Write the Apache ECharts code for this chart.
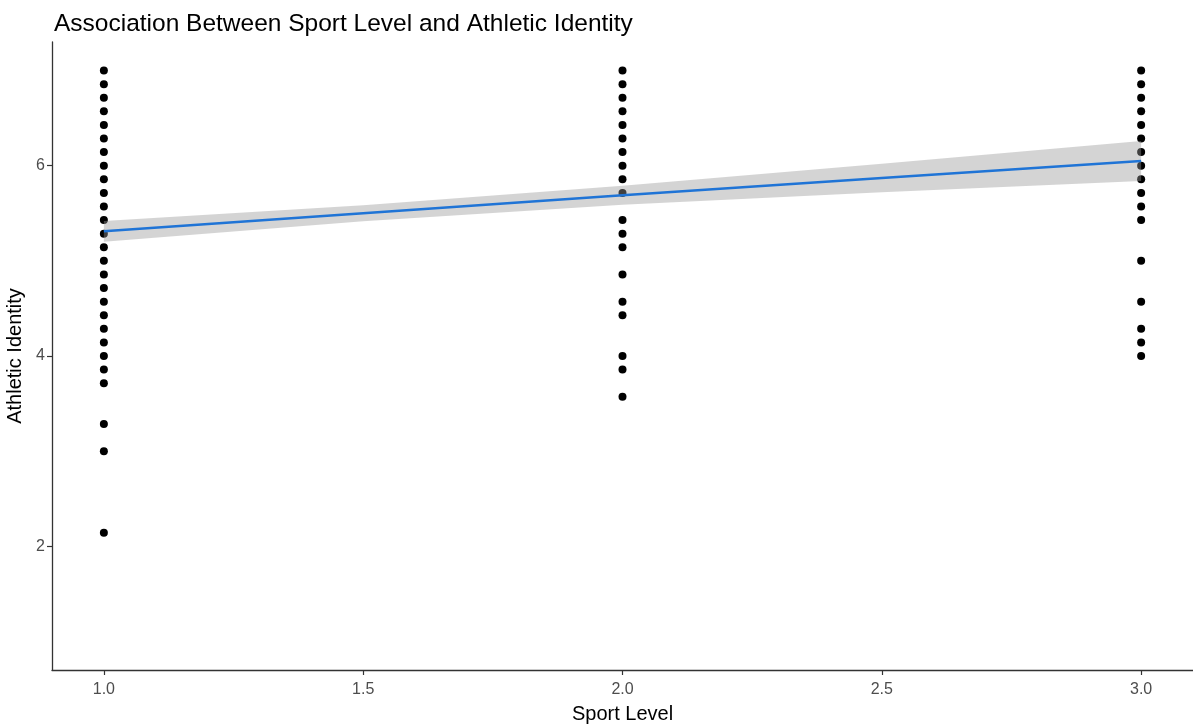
<!DOCTYPE html>
<html>
<head>
<meta charset="utf-8">
<script src="https://cdn.jsdelivr.net/npm/echarts@6/dist/echarts.min.js"></script>
<style>html,body{margin:0;padding:0;background:#fff}#c{width:1193px;height:727px}</style>
</head>
<body>
<div id="c"></div>
<script>
// Athletic identity values observed at each sport level
const level1 = [7, 6.857, 6.714, 6.571, 6.429, 6.286, 6.143, 6, 5.857, 5.714, 5.571, 5.429, 5.286, 5.143, 5, 4.857, 4.714, 4.571, 4.429, 4.286, 4.143, 4, 3.857, 3.714, 3.286, 3, 2.143];
const level2 = [7, 6.857, 6.714, 6.571, 6.429, 6.286, 6.143, 6, 5.857, 5.714, 5.429, 5.286, 5.143, 4.857, 4.571, 4.429, 4, 3.857, 3.571];
const level3 = [7, 6.857, 6.714, 6.571, 6.429, 6.286, 6.143, 6, 5.857, 5.714, 5.571, 5.429, 5, 4.571, 4.286, 4.143, 4];
// Fitted line and confidence band
const fitX = [1, 1.5, 2, 2.5, 3];
const fitY = [5.31, 5.50, 5.69, 5.87, 6.05];
const ciLow = [5.20, 5.415, 5.59, 5.72, 5.84];
const ciHigh = [5.42, 5.585, 5.79, 6.02, 6.26];
const xTicks = [1.0, 1.5, 2.0, 2.5, 3.0];
const yTicks = [2, 4, 6];

const points = [];
level1.forEach(v => points.push([1, v]));
level2.forEach(v => points.push([2, v]));
level3.forEach(v => points.push([3, v]));

const bandData = fitX.map((x, i) => [x, ciLow[i], ciHigh[i]]);

const chart = echarts.init(document.getElementById('c'));
const axisCol = '#333333';
const labCol = '#4d4d4d';
const ff = 'Liberation Sans, Arial, sans-serif';
chart.setOption({
  animation: false,
  backgroundColor: '#ffffff',
  textStyle: { fontFamily: ff },
  title: {
    text: 'Association Between Sport Level and Athletic Identity',
    left: 49, top: 7,
    textStyle: { fontSize: 24.5, fontWeight: 'normal', color: '#000', fontFamily: ff }
  },
  grid: { left: 52, right: 0, top: 42, bottom: 57, containLabel: false, outerBoundsMode: 'none' },
  xAxis: {
    type: 'value', min: 0.9, max: 3.1,
    name: 'Sport Level', nameLocation: 'middle', nameGap: 34,
    nameTextStyle: { fontSize: 20, color: '#000', fontFamily: ff },
    splitLine: { show: false },
    axisLine: { show: true, onZero: false, lineStyle: { color: axisCol, width: 1.3 } },
    axisTick: { show: true, length: 5, lineStyle: { color: axisCol, width: 1.2 }, customValues: xTicks },
    axisLabel: { customValues: xTicks, color: labCol, fontSize: 16, margin: 12, formatter: v => v.toFixed(1), fontFamily: ff }
  },
  yAxis: {
    type: 'value', min: 0.7, max: 7.3,
    name: 'Athletic Identity', nameLocation: 'middle', nameGap: 17,
    nameTextStyle: { fontSize: 20, color: '#000', fontFamily: ff },
    splitLine: { show: false },
    axisLine: { show: true, onZero: false, lineStyle: { color: axisCol, width: 1.3 } },
    axisTick: { show: true, length: 5, lineStyle: { color: axisCol, width: 1.2 }, customValues: yTicks },
    axisLabel: { customValues: yTicks, color: labCol, fontSize: 16, margin: 7, fontFamily: ff }
  },
  series: [
    {
      type: 'scatter', data: points, symbol: 'circle', symbolSize: 8,
      itemStyle: { color: '#000', opacity: 1 }, z: 2
    },
    {
      type: 'custom', z: 3, silent: true,
      data: bandData,
      renderItem: function (params, api) {
        if (params.dataIndex !== 0) return;
        const up = bandData.map(d => api.coord([d[0], d[2]]));
        const lo = bandData.map(d => api.coord([d[0], d[1]])).reverse();
        return { type: 'polygon', shape: { points: up.concat(lo) },
          style: { fill: 'rgba(153,153,153,0.42)' } };
      }
    },
    {
      type: 'line', data: fitX.map((x, i) => [x, fitY[i]]), showSymbol: false,
      lineStyle: { color: '#1f74d6', width: 2.5 }, z: 4
    }
  ]
});
</script>
</body>
</html>
